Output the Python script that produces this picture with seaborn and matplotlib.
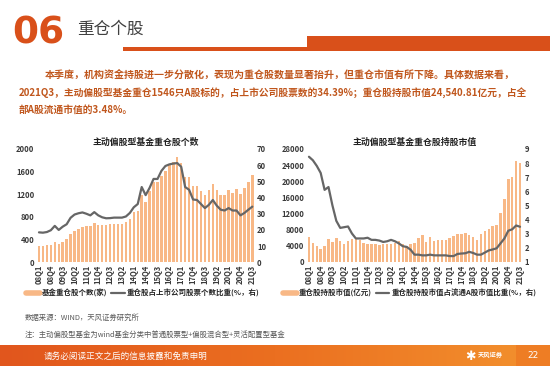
import numpy as np
import pandas as pd
import matplotlib
matplotlib.use("Agg")
import matplotlib.pyplot as plt
import seaborn as sb
from matplotlib.lines import Line2D
from matplotlib.patches import Rectangle

# quarters 2008Q1 .. 2021Q3
quarters = ["08Q1", "08Q2", "08Q3", "08Q4", "09Q1", "09Q2", "09Q3", "09Q4",
            "10Q1", "10Q2", "10Q3", "10Q4", "11Q1", "11Q2", "11Q3", "11Q4",
            "12Q1", "12Q2", "12Q3", "12Q4", "13Q1", "13Q2", "13Q3", "13Q4",
            "14Q1", "14Q2", "14Q3", "14Q4", "15Q1", "15Q2", "15Q3", "15Q4",
            "16Q1", "16Q2", "16Q3", "16Q4", "17Q1", "17Q2", "17Q3", "17Q4",
            "18Q1", "18Q2", "18Q3", "18Q4", "19Q1", "19Q2", "19Q3", "19Q4",
            "20Q1", "20Q2", "20Q3", "20Q4", "21Q1", "21Q2", "21Q3"]

# left panel: number of heavy-held stocks (bars) and share of listed stocks (%)
fund_count = [290, 290, 300, 310, 360, 320, 360, 405, 495, 545, 580, 620, 635, 635,
              695, 660, 655, 660, 675, 680, 680, 680, 705, 760, 880, 910, 1180, 1060,
              1250, 1420, 1420, 1530, 1620, 1720, 1770, 1860, 1750, 1510, 1500, 1340,
              1350, 1250, 1180, 1270, 1390, 1270, 1180, 1190, 1280, 1230, 1300, 1200,
              1310, 1410, 1546]
count_ratio = [18.5, 18.3, 18.7, 19.8, 22.5, 20.0, 22.0, 23.5, 27.5, 29.5, 30.3, 30.8,
               30.0, 29.0, 31.0, 29.0, 27.8, 27.2, 27.3, 27.6, 27.6, 27.6, 28.3, 30.5,
               34.0, 36.0, 46.5, 41.5, 46.0, 51.5, 51.5, 56.5, 59.5, 60.5, 61.0, 61.3,
               59.0, 46.5, 44.8, 38.8, 38.5, 36.0, 33.5, 35.5, 38.5, 35.0, 32.5, 32.0,
               33.5, 32.0, 32.0, 29.0, 30.5, 32.5, 34.39]

# right panel: market value of heavy-held stocks (100m CNY) and share of float cap (%)
hold_value = [6200, 4700, 3900, 3250, 4000, 5550, 4950, 5800, 5200, 4300, 5200, 5550,
              5650, 5400, 4700, 4400, 4300, 4350, 4100, 4300, 4350, 4300, 4750, 5050,
              4300, 3800, 4300, 4650, 5950, 6600, 4900, 6200, 5100, 5350, 5400, 5400,
              5800, 6400, 6800, 7000, 7100, 6750, 6150, 5300, 6950, 7600, 8100, 8900,
              9050, 12200, 15500, 20600, 21100, 24950, 24540.81]
value_ratio = [8.45, 8.2, 7.8, 7.3, 6.1, 6.3, 5.0, 3.9, 3.4, 3.45, 3.5, 3.0, 2.65, 2.65,
               2.65, 2.7, 2.55, 2.55, 2.5, 2.4, 2.45, 2.55, 2.45, 2.3, 2.1, 2.05, 1.85,
               1.5, 1.5, 1.45, 1.45, 1.5, 1.45, 1.45, 1.45, 1.45, 1.4, 1.4, 1.55, 1.58,
               1.6, 1.7, 1.62, 1.5, 1.5, 1.65, 1.8, 1.87, 1.95, 2.3, 2.65, 3.2, 3.3,
               3.57, 3.48]

left_ticks = [0, 400, 800, 1200, 1600, 2000]
left_rticks = [0, 10, 20, 30, 40, 50, 60, 70]
right_ticks = [0, 4000, 8000, 12000, 16000, 20000, 24000, 28000]
right_rticks = [1, 2, 3, 4, 5, 6, 7, 8, 9]

BAR = "#F8B886"
LINE = "#666666"
ORANGE = "#D9501A"
BROWN = "#C0561C"
TICK = "#3A3A3A"
CJK = ["Noto Sans CJK SC", "DejaVu Sans"]

W, H = 550, 366


def px(x, y):
    return x / W, 1 - y / H


def draw_panel(fig, left, right, bottom, top, title, bars, line, lt, rt):
    x0, y0 = px(left, bottom)
    x1, y1 = px(right, top)
    ax = fig.add_axes([x0, y0, x1 - x0, y1 - y0])
    D = pd.DataFrame({"quarter": quarters, "bar": bars, "line": line})
    D["pos"] = np.arange(len(D))
    sb.barplot(data=D, x="quarter", y="bar", color=BAR, saturation=1, width=0.62,
               linewidth=0, ax=ax)
    ax2 = ax.twinx()
    sb.lineplot(data=D, x="pos", y="line", color=LINE, lw=1.6, ax=ax2, sort=False)

    ax.set_xlim(-0.5, len(D) - 0.5)
    ax.set_ylim(lt[0], lt[-1])
    ax2.set_ylim(rt[0], rt[-1])
    ax.set_yticks(lt)
    ax2.set_yticks(rt)
    ax.set_xticks(range(0, len(D), 3))
    ax.set_xticklabels(quarters[::3], rotation=90)
    for a in (ax, ax2):
        a.set_xlabel("")
        a.set_ylabel("")
        for s in a.spines.values():
            s.set_visible(False)
        a.tick_params(length=0, labelsize=5.5, colors=TICK, pad=2)
        for t in a.get_xticklabels() + a.get_yticklabels():
            t.set_fontweight("bold")
    ax.set_title(title, fontsize=6.4, fontweight="bold", color="#222222", pad=3,
                 family=CJK)
    return ax


def main():
    sb.set_theme(style="white")
    plt.rcParams["font.family"] = CJK
    fig = plt.figure(figsize=(5.5, 3.66), dpi=100)
    fig.patch.set_facecolor("white")

    # header
    fig.text(*px(12, 33), "06", fontsize=27, fontweight="bold", color=ORANGE,
             va="center", ha="left", family=["DejaVu Sans"])
    fig.text(*px(77, 29), "重仓个股", fontsize=12, color="#404040", va="center", ha="left")
    x, y = px(123, 51)
    fig.add_artist(Rectangle((x, y), (307 - 123) / W, 4 / H, transform=fig.transFigure,
                             color=ORANGE, lw=0))
    x, y = px(307, 51)
    fig.add_artist(Rectangle((x, y), (W - 307) / W, 15 / H, transform=fig.transFigure,
                             color=ORANGE, lw=0))

    # body text
    body = ["本季度，机构资金持股进一步分散化，表现为重仓股数量显著抬升，但重仓市值有所下降。具体数据来看，",
            "2021Q3，主动偏股型基金重仓1546只A股标的，占上市公司股票数的34.39%；重仓股持股市值24,540.81亿元，占全",
            "部A股流通市值的3.48%。"]
    fig.text(*px(45, 75), body[0], fontsize=7.2, color=BROWN, fontweight="bold", va="center")
    fig.text(*px(19, 93), body[1], fontsize=7.0, color=BROWN, fontweight="bold", va="center")
    fig.text(*px(19, 110), body[2], fontsize=7.0, color=BROWN, fontweight="bold", va="center")

    # panels
    draw_panel(fig, 37, 254.3, 262.3, 149, "主动偏股型基金重仓股个数",
               fund_count, count_ratio, left_ticks, left_rticks)
    draw_panel(fig, 307, 522, 261.7, 149, "主动偏股型基金重仓股持股市值",
               hold_value, value_ratio, right_ticks, right_rticks)

    # legends
    leg_kw = dict(frameon=False, ncol=2, loc="center left", borderpad=0, borderaxespad=0,
                  handlelength=1.8, handletextpad=0.3, columnspacing=0.5,
                  prop={"size": 5.4, "weight": "bold", "family": CJK})
    fig.legend([Line2D([], [], color=BAR, lw=4), Line2D([], [], color=LINE, lw=1.6)],
               ["基金重仓股个数(家)", "重仓股占上市公司股票个数比重(%，右)"],
               bbox_to_anchor=px(26, 293), **leg_kw)
    fig.legend([Line2D([], [], color=BAR, lw=4), Line2D([], [], color=LINE, lw=1.6)],
               ["重仓股持股市值(亿元)", "重仓股持股市值占流通A股市值比重(%，右)"],
               bbox_to_anchor=px(283, 293), **leg_kw)

    # notes
    fig.text(*px(25, 318), "数据来源：WIND，天风证券研究所", fontsize=5.3, color="#595959",
             va="center")
    fig.text(*px(25, 335), "注：主动偏股型基金为wind基金分类中普通股票型+偏股混合型+灵活配置型基金",
             fontsize=5.3, color="#595959", va="center")

    # footer band
    fax = fig.add_axes([0, 0, 1, 21 / H])
    grad = np.linspace(0, 1, 256).reshape(1, -1)
    cmap = matplotlib.colors.LinearSegmentedColormap.from_list(
        "band", ["#E1561D", "#EB6F20", "#F3922E"])
    fax.imshow(grad, aspect="auto", cmap=cmap, extent=(0, W, 0, 21))
    fax.add_patch(Rectangle((516, 0), 34, 21, color="#EE7D24", lw=0))
    fax.set_xlim(0, W)
    fax.set_ylim(0, 21)
    fax.axis("off")
    fig.text(*px(44, 356), "请务必阅读正文之后的信息披露和免责申明", fontsize=6.2,
             color="white", va="center")
    fig.text(*px(470, 356), "✱", fontsize=9, color="white", va="center", ha="center",
             family=["DejaVu Sans"])
    fig.text(*px(478, 355), "天风证券", fontsize=4.5, color="white", va="center",
             fontweight="bold")
    fig.text(*px(533, 356), "22", fontsize=6.5, color="white", va="center", ha="center",
             family=["DejaVu Sans"])

    fig.savefig("out.png", dpi=100)
    plt.close(fig)


if __name__ == "__main__":
    main()
